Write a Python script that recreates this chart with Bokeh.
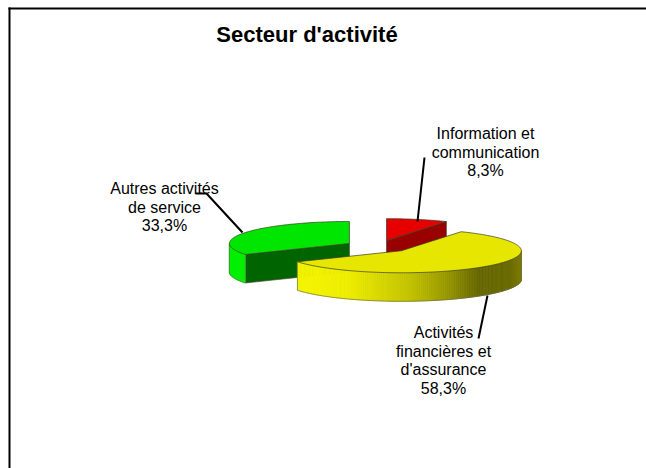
import math
from bokeh.plotting import figure
from bokeh.models import Range1d
from bokeh.core.properties import value
from bokeh.embed import file_html
from bokeh.resources import INLINE

title = "Secteur d'activité"
categories = ["Information et\ncommunication", "Activités\nfinancières et\nd'assurance", "Autres activités\nde service"]
shares = [8.3, 58.3, 33.3]
share_labels = ["8,3%", "58,3%", "33,3%"]
top_colors = ["#E60000", "#E6E600", "#00E600"]
face_colors = ["#990000", "#666600", "#006400"]

# layout (page pixels)
W, H = 646, 468
CX, CY, RX, RY, DEPTH, EXPLODE = 377.5, 246.0, 120.0, 22.0, 28.5, 33.0
label_pos = [(485, 133), (443, 332), (164, 188)]
LINE_H = 18.6
leaders = [([424, 417], [157, 221]), ([478, 487], [338, 295]), ([195, 206, 242], [193, 193, 232])]

p = figure(width=W, height=H, output_backend="svg", toolbar_location=None,
           x_range=Range1d(0, W), y_range=Range1d(H, 0), min_border=0)
p.axis.visible = False
p.grid.visible = False
p.outline_line_color = None

def pt(c, deg, dz=0.0, r=1.0):
    a = math.radians(deg)
    return c[0] + RX * r * math.sin(a), c[1] - RY * r * math.cos(a) + dz

def lerp_hex(stops, t):
    for (t0, c0), (t1, c1) in zip(stops, stops[1:]):
        if t <= t1:
            f = (t - t0) / (t1 - t0)
            return "#%02x%02x%02x" % tuple(int(round(a + (b - a) * f)) for a, b in zip(c0, c1))
    return "#%02x%02x%02x" % stops[-1][1]

def yel(v):
    return (v, v, 0)

SIDE = {
    0: [(0, (230, 0, 0)), (1, (153, 0, 0))],
    1: [(0, yel(246)), (0.27, yel(238)), (0.45, yel(208)), (0.54, yel(192)), (0.675, yel(156)),
        (0.82, yel(102)), (0.95, yel(105)), (1, yel(128))],
    2: [(0, (0, 240, 0)), (1, (0, 230, 0))],
}
EDGE = "#3a3a20"

# slices back to front: red, green, yellow
start = 0.0
spans = []
total = sum(shares)
for s in shares:
    spans.append((start, start + s / total * 360))
    start += s / total * 360

for i in [0, 2, 1]:
    a0, a1 = spans[i]
    mid = math.radians((a0 + a1) / 2)
    c = (CX + EXPLODE * math.sin(mid), CY - EXPLODE * RY / RX * math.cos(mid))
    steps = max(8, int(a1 - a0))
    angs = [a0 + (a1 - a0) * k / steps for k in range(steps + 1)]
    # cut faces that look toward the viewer
    for edge in (a0, a1):
        if 0 < (edge % 360) < 90 or 180 < (edge % 360) < 270:
            e = pt(c, edge)
            xs = [c[0], e[0], e[0], c[0]]
            ys = [c[1], e[1], e[1] + DEPTH, c[1] + DEPTH]
            if i != 1:
                p.patch(xs, ys, fill_color=face_colors[i], line_color=EDGE, line_width=0.6)
    # outer rim
    xq, yq, cq = [], [], []
    for u, v in zip(angs, angs[1:]):
        m = (u + v) / 2
        if 90 <= (m % 360) <= 270:
            pu, pv = pt(c, u), pt(c, v)
            xq.append([pu[0], pv[0], pv[0], pu[0]])
            yq.append([pu[1], pv[1], pv[1] + DEPTH, pu[1] + DEPTH])
            t = (pt(c, m)[0] - (c[0] - RX)) / (2 * RX)
            cq.append(lerp_hex(SIDE[i], t))
    if xq:
        p.patches(xq, yq, fill_color=cq, line_color=cq, line_width=0.8)
        vis = [a for a in angs if 90 <= (a % 360) <= 270]
        bx = [pt(c, a)[0] for a in vis]
        by = [pt(c, a)[1] + DEPTH for a in vis]
        p.line(bx, by, line_color="#6b6b55", line_width=0.7)
        p.line([bx[0], bx[0]], [by[0] - DEPTH, by[0]], line_color="#6b6b55", line_width=0.7)
        p.line([bx[-1], bx[-1]], [by[-1] - DEPTH, by[-1]], line_color="#6b6b55", line_width=0.7)
    # top
    tx = [c[0]] + [pt(c, a)[0] for a in angs]
    ty = [c[1]] + [pt(c, a)[1] for a in angs]
    p.patch(tx, ty, fill_color=top_colors[i], line_color=EDGE, line_width=0.7)

# leader lines
for xs, ys in leaders:
    p.line(xs, ys, line_color="black", line_width=2)

# labels
for cat, lab, (x, y) in zip(categories, share_labels, label_pos):
    for k, line in enumerate(cat.split("\n") + [lab]):
        p.text([x], [y + k * LINE_H], text=[line], text_font=value("Liberation Sans"), text_font_size="16px",
               text_align="center", text_baseline="middle", text_color="#000000")

p.text([306.5], [34], text=[title], text_font=value("Liberation Sans"), text_font_style="bold",
       text_font_size="22px", text_align="center", text_baseline="middle", text_color="#000000")

# frame
p.line([9, 9], [7, H], line_color="black", line_width=2)
p.line([8, W], [8, 8], line_color="black", line_width=2)

open("out.html", "w").write(file_html(p, INLINE))
